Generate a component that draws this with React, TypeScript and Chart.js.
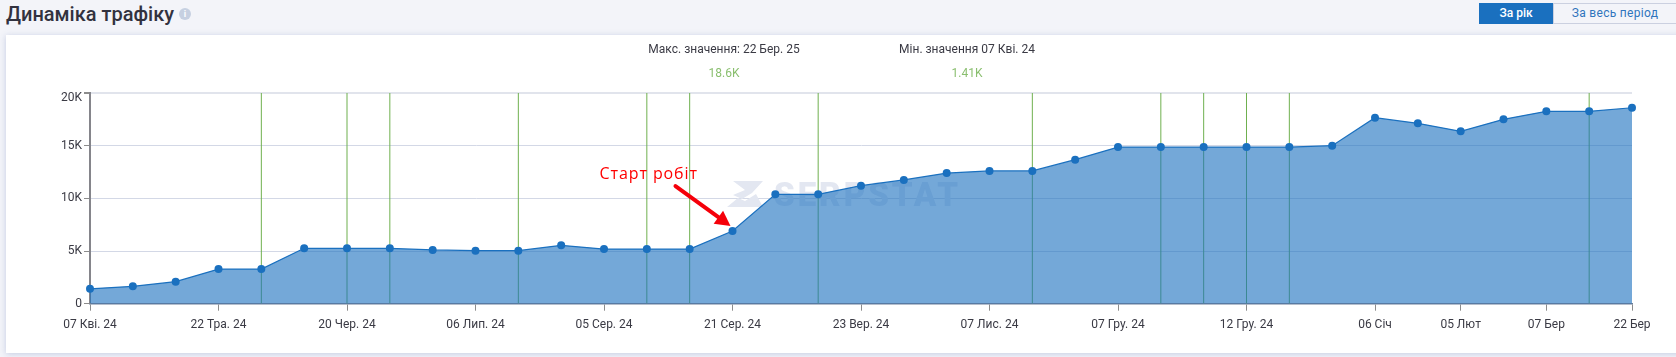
import React, { useEffect, useRef } from "react";
import { Chart, registerables } from "chart.js";

Chart.register(...registerables);

const categories = ["07 Кві. 24", "", "", "22 Тра. 24", "", "", "20 Чер. 24", "", "", "06 Лип. 24", "", "", "05 Сер. 24", "", "", "21 Сер. 24", "", "", "23 Вер. 24", "", "", "07 Лис. 24", "", "", "07 Гру. 24", "", "", "12 Гру. 24", "", "", "06 Січ", "", "05 Лют", "", "07 Бер", "", "22 Бер"];
const traffic = [1410, 1650, 2090, 3290, 3290, 5260, 5260, 5260, 5100, 5030, 5030, 5540, 5190, 5190, 5190, 6900, 10380, 10380, 11200, 11750, 12400, 12600, 12600, 13670, 14870, 14870, 14870, 14870, 14870, 15000, 17660, 17120, 16360, 17500, 18260, 18260, 18600];
const updates = [null, null, null, null, 20000, null, 20000, 20000, null, null, 20000, null, null, 20000, 20000, null, null, 20000, null, null, null, null, 20000, null, null, 20000, 20000, 20000, 20000, null, null, null, null, null, null, 20000, null];
const startIndex = 15;
const startLabel = "Старт робіт";
const watermark = "SERPSTAT";

const FONT = "Roboto, sans-serif";

const decorations = {
  id: "decorations",
  beforeDatasetsDraw(chart: any) {
    const { ctx } = chart;
    ctx.save();
    ctx.fillStyle = "#e3e7f1";
    ctx.beginPath();
    ctx.moveTo(733, 181);
    ctx.lineTo(763, 181);
    ctx.lineTo(752, 193);
    ctx.lineTo(742, 199);
    ctx.lineTo(733, 195);
    ctx.lineTo(745, 190);
    ctx.closePath();
    ctx.moveTo(727, 207);
    ctx.lineTo(738, 198);
    ctx.lineTo(745, 201);
    ctx.lineTo(756, 194);
    ctx.lineTo(763, 207);
    ctx.closePath();
    ctx.fill();
    ctx.font = "900 33px Roboto, sans-serif";
    ctx.letterSpacing = "3px";
    ctx.textBaseline = "alphabetic";
    ctx.textAlign = "left";
    ctx.fillText(watermark, 774, 206);
    ctx.restore();
  },
  afterDatasetsDraw(chart: any) {
    const { ctx } = chart;
    const x = chart.scales.x.getPixelForValue(startIndex);
    const y = chart.scales.y.getPixelForValue(traffic[startIndex]);
    const tipX = x - 2;
    const tipY = y - 5;
    const tailX = x - 57;
    const tailY = y - 45;
    const a = Math.atan2(tipY - tailY, tipX - tailX);
    const neckX = tipX - 15 * Math.cos(a);
    const neckY = tipY - 15 * Math.sin(a);
    ctx.save();
    ctx.strokeStyle = "#f5000a";
    ctx.fillStyle = "#f5000a";
    ctx.lineWidth = 4;
    ctx.lineCap = "round";
    ctx.beginPath();
    ctx.moveTo(tailX, tailY);
    ctx.lineTo(neckX, neckY);
    ctx.stroke();
    ctx.beginPath();
    ctx.moveTo(tipX, tipY);
    ctx.lineTo(neckX - 8 * Math.sin(a), neckY + 8 * Math.cos(a));
    ctx.lineTo(neckX + 8 * Math.sin(a), neckY - 8 * Math.cos(a));
    ctx.closePath();
    ctx.fill();
    ctx.font = "16px 'Open Sans', sans-serif";
    ctx.letterSpacing = "0.9px";
    ctx.fillStyle = "#ff0000";
    ctx.textAlign = "left";
    ctx.textBaseline = "middle";
    ctx.fillText(startLabel, x - 133, y - 57);
    ctx.restore();
  },
};

export default function App() {
  const ref = useRef<HTMLCanvasElement>(null);

  useEffect(() => {
    const chart = new Chart(ref.current!, {
      type: "line",
      data: {
        labels: categories,
        datasets: [
          {
            type: "line",
            data: traffic,
            order: 1,
            borderColor: "#1a70bf",
            borderWidth: 1.25,
            backgroundColor: "rgba(26,112,191,0.607)",
            fill: "origin",
            tension: 0,
            pointRadius: 4,
            pointBackgroundColor: "#1a70bf",
            pointBorderColor: "#1a70bf",
            pointBorderWidth: 0,
            clip: false,
          },
          {
            type: "bar",
            data: updates,
            order: 2,
            backgroundColor: "#6fb04f",
            barThickness: 1,
            inflateAmount: 0,
          },
        ],
      } as any,
      plugins: [decorations],
      options: {
        animation: false,
        responsive: false,
        layout: { padding: { top: 93, right: 44, left: 0, bottom: 0 } },
        plugins: { legend: { display: false }, tooltip: { enabled: false } },
        scales: {
          x: {
            type: "category",
            offset: false,
            afterBuildTicks(axis: any) {
              axis.ticks = axis.ticks.filter((t: any) => categories[t.value]);
            },
            afterFit(axis: any) {
              axis.height = 53.3;
            },
            border: { color: "#6d7f99", width: 1.5 },
            grid: { offset: false, drawOnChartArea: false, tickColor: "#8c8c8c", tickLength: 7, tickWidth: 1 },
            ticks: {
              autoSkip: false,
              maxRotation: 0,
              minRotation: 0,
              padding: 7,
              color: "#3a3a44",
              font: { family: FONT, size: 12 },
            },
          },
          y: {
            min: 0,
            max: 20000,
            afterFit(axis: any) {
              axis.width = 90;
            },
            border: { color: "#85858b", width: 2 },
            grid: {
              color: (c: any) => (c.tick.value === 20000 ? "#e1e4ec" : "#d3d8e6"),
              lineWidth: (c: any) => (c.tick.value === 20000 ? 2 : 1),
              tickColor: "#8c8c8c",
              tickLength: 6,
            },
            ticks: {
              stepSize: 5000,
              padding: 2,
              color: "#3a3a44",
              font: (c: any) => ({ family: FONT, size: 12, lineHeight: c.tick?.value === 20000 ? "10px" : 1.2 }),
              callback: (v: any) => (v === 0 ? "0" : v === 20000 ? ["", "20K"] : `${v / 1000}K`),
            },
          },
        },
      } as any,
    });
    return () => chart.destroy();
  }, []);

  const text: React.CSSProperties = { position: "absolute", fontFamily: FONT, whiteSpace: "nowrap" };
  const centered: React.CSSProperties = { ...text, transform: "translateX(-50%)", fontSize: 12, lineHeight: "14px" };

  return (
    <div style={{ position: "absolute", left: 0, top: 0, width: 1676, height: 357, overflow: "hidden", background: "#f3f4f9" }}>
      <div style={{ ...text, left: 6, top: 1, fontSize: 20, lineHeight: "26px", fontWeight: 500, color: "#32323f" }}>Динаміка трафіку</div>
      <div style={{ ...text, left: 179, top: 8, width: 12, height: 12, borderRadius: 6, background: "#c6d0e1", color: "#fff", fontSize: 9, fontWeight: 700, lineHeight: "12px", textAlign: "center" }}>i</div>
      <div style={{ ...text, left: 1479, top: 3, width: 74, height: 21, background: "#1a70bf", color: "#fff", fontSize: 12, fontWeight: 500, lineHeight: "21px", textAlign: "center" }}>За рік</div>
      <div style={{ ...text, left: 1553, top: 3, width: 124, height: 21, boxSizing: "border-box", border: "1px solid #cbd0e0", color: "#2f74bd", fontSize: 12, lineHeight: "19px", textAlign: "center", letterSpacing: 0.3 }}>За весь період</div>
      <div style={{ position: "absolute", left: 6, top: 35, width: 1680, height: 318, background: "#fff", boxShadow: "0 1px 6px rgba(140,155,200,0.45)" }} />
      <canvas ref={ref} width={1676} height={357} style={{ position: "absolute", left: 0, top: 0, display: "block" }} />
      <div style={{ ...centered, left: 724, top: 42, color: "#3a3a44" }}>Макс. значення: 22 Бер. 25</div>
      <div style={{ ...centered, left: 724, top: 66, color: "#8abf6f" }}>18.6K</div>
      <div style={{ ...centered, left: 967, top: 42, color: "#3a3a44" }}>Мін. значення 07 Кві. 24</div>
      <div style={{ ...centered, left: 967, top: 66, color: "#8abf6f" }}>1.41K</div>
    </div>
  );
}
